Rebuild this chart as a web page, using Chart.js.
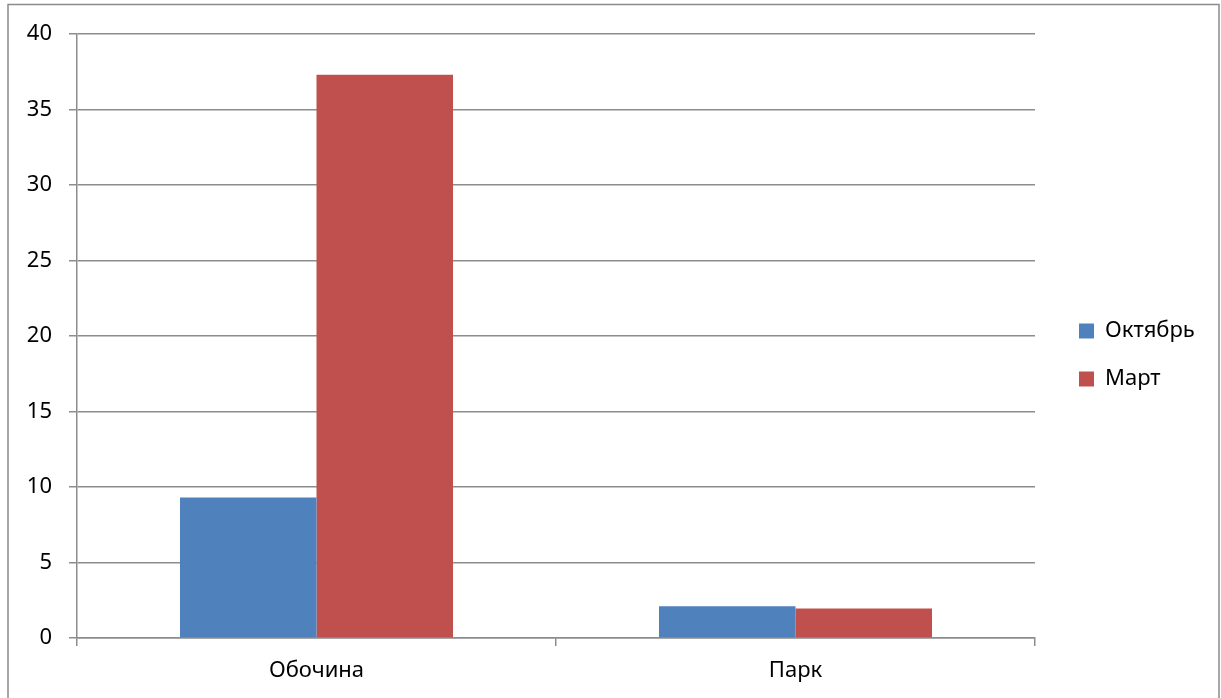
<!DOCTYPE html>
<html>
<head>
<meta charset="utf-8">
<script src="https://cdn.jsdelivr.net/npm/chart.js@4"></script>
<style>
  html, body { margin: 0; padding: 0; background: #fff; }
  canvas { display: block; }
</style>
</head>
<body>
<canvas id="c" width="1221" height="698"></canvas>
<script>
// Data
const categories = ['Обочина', 'Парк'];
const seriesNames = ['Октябрь', 'Март'];
const october = [9.3, 2.1];
const march = [37.3, 1.95];
const yTickValues = [0, 5, 10, 15, 20, 25, 30, 35, 40];

// Styling
const FONT_FAMILY = '"Noto Sans", "Liberation Sans", sans-serif';
const FONT_SIZE = 22;
const GRID = '#8c8c8c';
const BLUE = '#4F81BD';
const RED = '#C0504D';

// Layout
const W = 1221, H = 698;
const PLOT_LEFT = 77, PLOT_TOP = 34, PLOT_RIGHT = 1035, PLOT_BOTTOM = 638;
const PAD_TOP = 12;
const LEGEND_LEFT = 1053;
const LEGEND_PAD = 26;
const BOX = 15;

// legend width is measured so the legend column starts at LEGEND_LEFT
const mctx = document.createElement('canvas').getContext('2d');
mctx.font = FONT_SIZE + 'px ' + FONT_FAMILY;
const textW = Math.max(...seriesNames.map(s => mctx.measureText(s).width));
const legendWidth = LEGEND_PAD + BOX + FONT_SIZE / 2 + textW + 10;
const padRight = Math.max(0, W - LEGEND_LEFT - legendWidth);

Chart.defaults.font.family = FONT_FAMILY;
Chart.defaults.font.size = FONT_SIZE;
Chart.defaults.color = '#000';

const frame = {
  id: 'frame',
  beforeDraw(chart) {
    const ctx = chart.ctx;
    ctx.save();
    ctx.fillStyle = '#fff';
    ctx.fillRect(0, 0, chart.width, chart.height);
    ctx.strokeStyle = '#8a8a8a';
    ctx.lineWidth = 1.5;
    ctx.strokeRect(8, 4.5, 1211, 760);
    ctx.restore();
  }
};

// invisible spacer scales that reserve room above and right of the plot
const spacer = (position, size) => ({
  type: 'linear', position, display: true,
  grid: { display: false }, border: { display: false },
  ticks: { display: false },
  afterFit(s) { if (s.isHorizontal()) s.height = size; else s.width = size; }
});

new Chart(document.getElementById('c'), {
  type: 'bar',
  data: {
    labels: categories,
    datasets: [
      { label: seriesNames[0], data: october, backgroundColor: BLUE, borderWidth: 0 },
      { label: seriesNames[1], data: march, backgroundColor: RED, borderWidth: 0 }
    ]
  },
  options: {
    responsive: false,
    animation: false,
    layout: { padding: { left: 0, top: PAD_TOP, right: padRight, bottom: 0 } },
    datasets: { bar: { categoryPercentage: 0.57, barPercentage: 1.0 } },
    scales: {
      x: {
        offset: true,
        grid: { offset: true, drawOnChartArea: false, drawTicks: true, tickLength: 8, color: GRID, lineWidth: 1.5 },
        border: { display: true, color: GRID, width: 1.5 },
        ticks: { padding: 12, color: '#000', font: { size: FONT_SIZE } },
        afterFit(s) { s.height = H - PLOT_BOTTOM; }
      },
      y: {
        min: 0, max: 40,
        afterBuildTicks(s) { s.ticks = yTickValues.map(v => ({ value: v })); },
        grid: { color: GRID, lineWidth: 1.5, tickLength: 8, drawTicks: true },
        border: { display: true, color: GRID, width: 1.5 },
        ticks: { padding: 17, color: '#000', font: { size: FONT_SIZE } },
        afterFit(s) { s.width = PLOT_LEFT; }
      },
      gapTop: spacer('top', PLOT_TOP - PAD_TOP),
      gapRight: spacer('right', LEGEND_LEFT - PLOT_RIGHT)
    },
    plugins: {
      legend: {
        position: 'right',
        align: 'center',
        labels: {
          boxWidth: BOX, boxHeight: BOX, padding: LEGEND_PAD,
          color: '#000', font: { size: FONT_SIZE }
        }
      },
      tooltip: { enabled: false }
    }
  },
  plugins: [frame]
});
</script>
</body>
</html>
